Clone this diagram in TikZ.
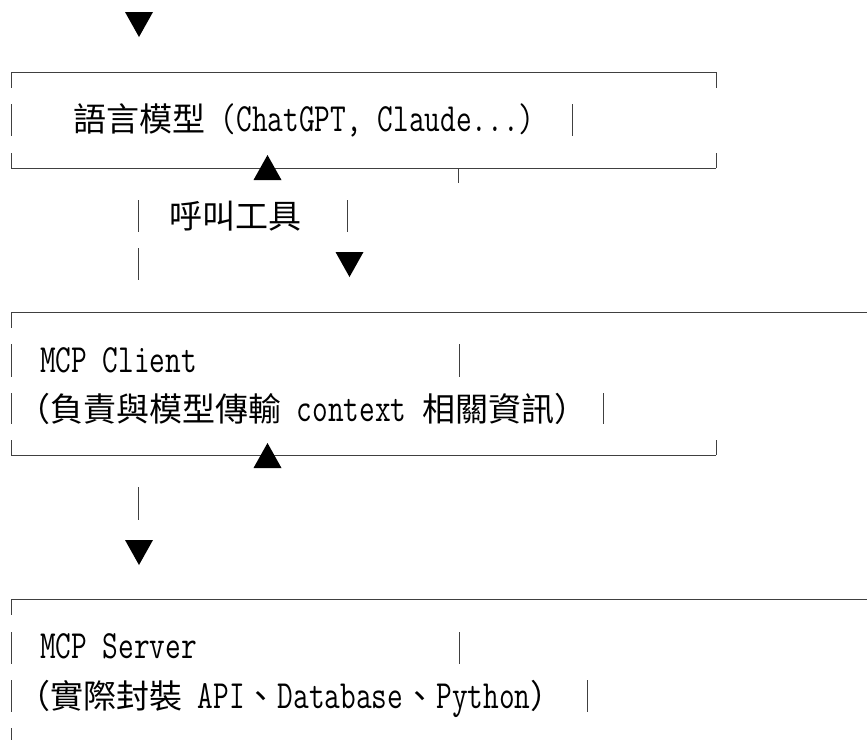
\documentclass[tikz,border=0pt]{standalone}
\usepackage{fontspec}
\usepackage{graphicx}
\newfontfamily\cjk{Noto Sans CJK TC}
\usetikzlibrary{calc, positioning}

\begin{document}
\begin{tikzpicture}[x=1pt,y=-1pt,
		rule/.style={draw=black!75, line width=1pt},
		txt/.style={anchor=base west, inner sep=0pt, outer sep=0pt}]
				\newcommand{\myfontlat}[1]{%
					\scalebox{0.762}[1]{\ttfamily\fontsize{40}{42}\selectfont #1}%
				}\newcommand{\myfontcjk}[1]{%
					{\cjk\fontsize{33}{35}\selectfont #1}%
				}%Triangles, given by the middle of their flat side
				\newcommand{\downtri}[1]{
					\fill[black] ($(#1)+(-14,0)$) -- ($(#1)+(14,0)$) -- ($(#1)+(0,25)$) -- cycle;
				}\newcommand{\uptri}[1]{
					\fill[black] ($(#1)+(-14,25)$) -- ($(#1)+(14,25)$) -- ($(#1)+(0,0)$) -- cycle;
				}
				\useasboundingbox (0,0) rectangle (867,740);
				%Arrow heads
				\coordinate (dn0) at (139,12);
				\coordinate (up1) at (267.5,155);
				\coordinate (dn1) at (349.5,252);
				\coordinate (up2) at (267.5,443);
				\coordinate (dn2) at (139,540);
				%First box: the model
				\coordinate (m0) at (11,72);
				\coordinate (m1) at (716,72);
				\coordinate (m2) at (11,168);
				\coordinate (m3) at (716,168);
				\draw[rule] (m0) -- (m1);
				\draw[rule] (m0) -- ++(0,16);
				\draw[rule] (m1) -- ++(0,16);
				\draw[rule] (11,104) -- (11,136);
				\draw[rule] (572,104) -- (572,136);
				\draw[rule] (m2) -- (m3);
				\draw[rule] (m2) -- ++(0,-15);
				\draw[rule] (m3) -- ++(0,-15);
				\draw[rule] (458,168) -- (458,183);
				\node [txt] (model) at (73,131) {\myfontcjk{語言模型}\myfontlat{ (ChatGPT, Claude...)}};
				%Tool call in between
				\draw[rule] (138,200) -- (138,232);
				\draw[rule] (347,200) -- (347,232);
				\draw[rule] (138,248) -- (138,280);
				\node [txt] (call) at (169,228) {\myfontcjk{呼叫工具}};
				%Second box: the client
				\coordinate (c0) at (11,312);
				\coordinate (c1) at (867,312);
				\coordinate (c2) at (11,455);
				\coordinate (c3) at (716,455);
				\draw[rule] (c0) -- (c1);
				\draw[rule] (c0) -- ++(0,16);
				\draw[rule] (11,344) -- (11,377);
				\draw[rule] (459,344) -- (459,377);
				\draw[rule] (11,393) -- (11,424);
				\draw[rule] (603,393) -- (603,424);
				\draw[rule] (c2) -- (c3);
				\draw[rule] (c2) -- ++(0,-15);
				\draw[rule] (c3) -- ++(0,-15);
				\node [txt] (client) at (40,372) {\myfontlat{MCP Client}};
				\node [txt] (clientinfo) at (17,421) {\myfontcjk{（負責與模型傳輸}\myfontlat{ context }\myfontcjk{相關資訊）}};
				%Between client and server
				\draw[rule] (138,487) -- (138,520);
				%Third box: the server
				\coordinate (s0) at (11,599);
				\coordinate (s1) at (867,599);
				\draw[rule] (s0) -- (s1);
				\draw[rule] (s0) -- ++(0,16);
				\draw[rule] (11,632) -- (11,664);
				\draw[rule] (459,632) -- (459,664);
				\draw[rule] (11,680) -- (11,712);
				\draw[rule] (587,680) -- (587,712);
				\draw[rule] (11,728) -- (11,740);
				\node [txt] (server) at (40,658) {\myfontlat{MCP Server}};
				\node [txt] (serverinfo) at (17,708) {\myfontcjk{（實際封裝}\myfontlat{ API}\myfontcjk{、}\myfontlat{Database}\myfontcjk{、}\myfontlat{Python}\myfontcjk{）}};
				%Draw the heads last, over the lines
				\downtri{dn0}
				\uptri{up1}
				\downtri{dn1}
				\uptri{up2}
				\downtri{dn2}
				\end{tikzpicture}
\end{document}
